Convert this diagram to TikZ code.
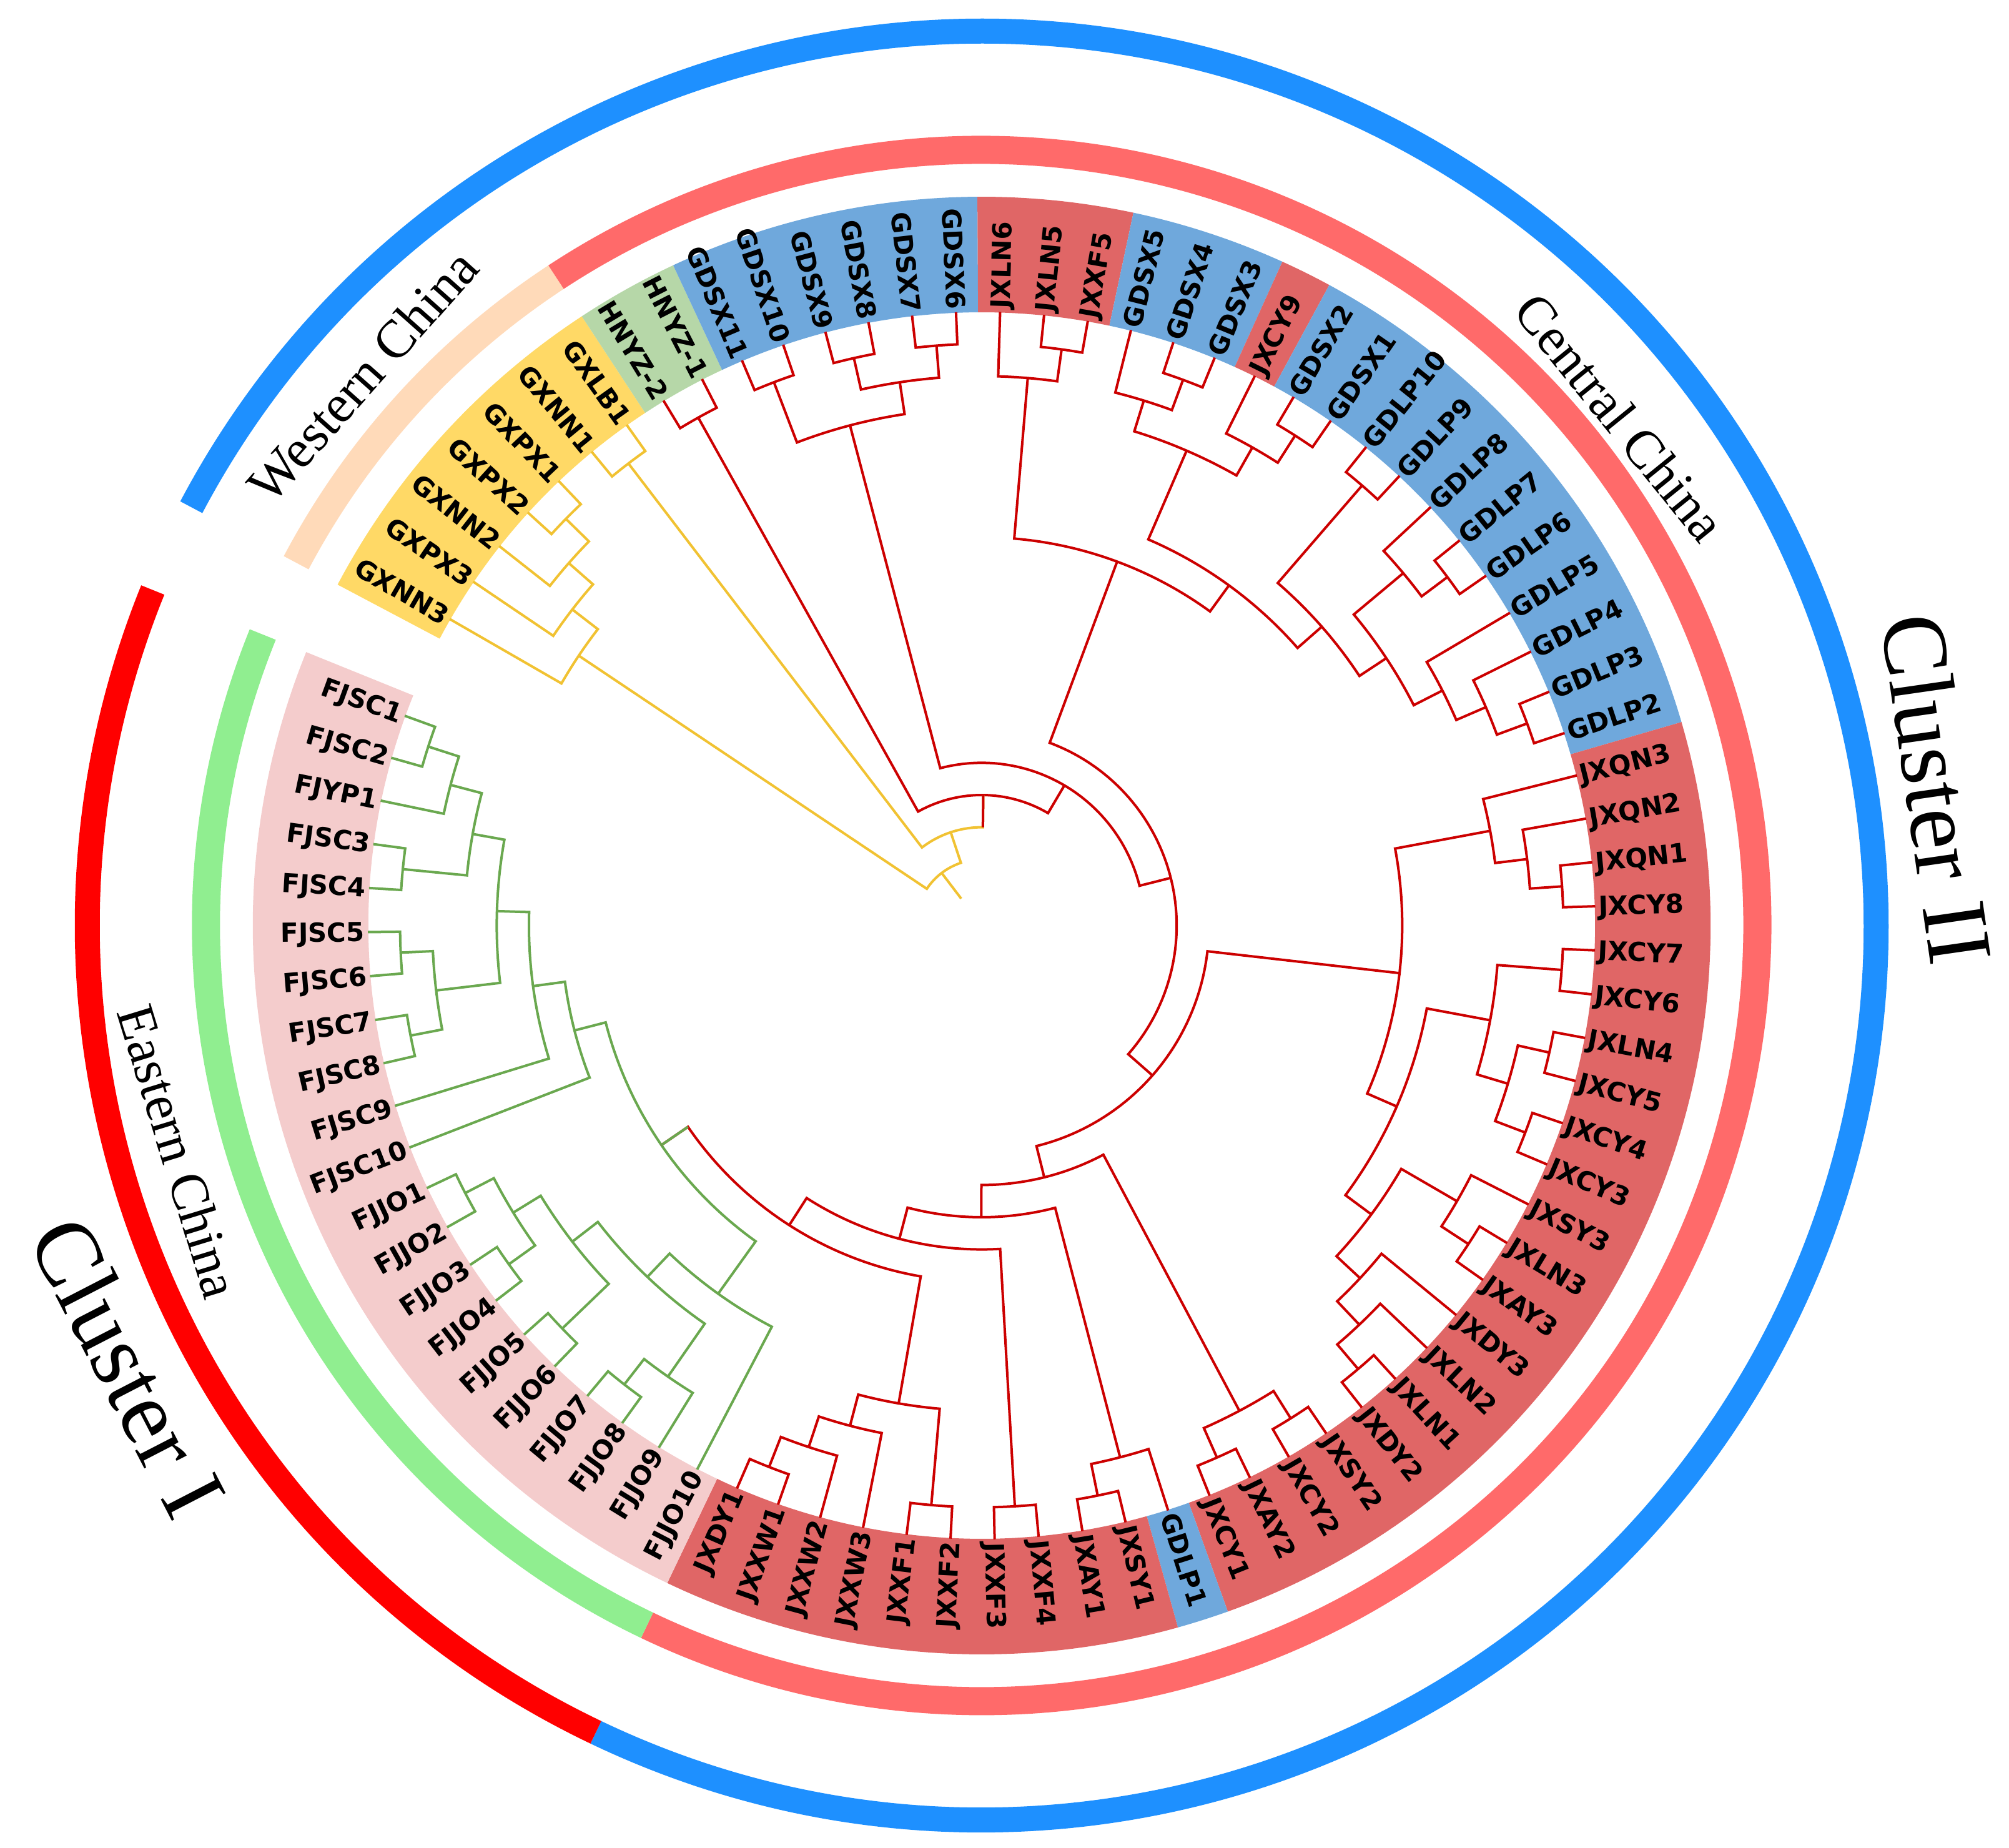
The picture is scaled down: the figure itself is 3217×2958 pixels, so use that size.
\documentclass[tikz,border=0pt]{standalone}
\usepackage{fontspec}
\usepackage{xcolor}
\newfontfamily\tipfont{DejaVu Sans}
\newfontfamily\ringfont{Liberation Serif}

\definecolor{clusterblue}{RGB}{30,144,255}
\definecolor{clusterred}{RGB}{255,0,0}
\definecolor{westpeach}{RGB}{255,218,185}
\definecolor{centralsalmon}{RGB}{255,106,106}
\definecolor{eastgreen}{RGB}{144,238,144}
\definecolor{bandyellow}{RGB}{255,217,102}
\definecolor{bandgreen}{RGB}{182,215,168}
\definecolor{bandblue}{RGB}{111,168,220}
\definecolor{bandred}{RGB}{224,102,102}
\definecolor{bandpink}{RGB}{244,204,204}
\definecolor{treeyellow}{RGB}{241,194,50}
\definecolor{treered}{RGB}{204,0,0}
\definecolor{treegreen}{RGB}{106,168,79}

% angle of tip number #1, radius of a clade of height #1
\newcommand{\tipang}[1]{(150.05-4.118*(#1))}
\newcommand{\noderad}[1]{(983-51.6*(#1))}
% colour, tip A, height A, tip B, height B, height of the clade
\newcommand{\clade}[6]{\draw[branch,#1] ({\tipang{#2}}:{\noderad{#3}}) -- ({\tipang{#2}}:{\noderad{#6}}) arc[start angle={\tipang{#2}},end angle={\tipang{#4}},radius={\noderad{#6}}] -- ({\tipang{#4}}:{\noderad{#5}});}
\newcommand{\bandsector}[3]{\fill[#1] ({\tipang{#2}}:982) arc[start angle={\tipang{#2}},end angle={\tipang{#3}},radius=982] -- ({\tipang{#3}}:1167) arc[start angle={\tipang{#3}},end angle={\tipang{#2}},radius=1167] -- cycle;}
\newcommand{\ringarc}[5]{\draw[#1,line width=#2] ({\tipang{#3}}:#5) arc[start angle={\tipang{#3}},end angle={\tipang{#4}},radius=#5];}

\tikzset{
  branch/.style={line width=4pt},
  leaf/.style={inner sep=0pt,text height=30pt,text depth=0pt,font=\tipfont\bfseries\fontsize{42}{42}\selectfont},
  regionlabel/.style={inner sep=0pt,font=\ringfont\fontsize{86}{86}\selectfont},
  clusterlabel/.style={inner sep=0pt,font=\ringfont\fontsize{148}{148}\selectfont}
}

\begin{document}
\begin{tikzpicture}[x=1pt,y=1pt]
\useasboundingbox (-1572,-1476) rectangle (1645,1482);

%Shape: Sector bands
\bandsector{bandyellow}{-0.5}{6.5}
\bandsector{bandgreen}{6.5}{8.5}
\bandsector{bandblue}{8.5}{14.5}
\bandsector{bandred}{14.5}{17.5}
\bandsector{bandblue}{17.5}{20.5}
\bandsector{bandred}{20.5}{21.5}
\bandsector{bandblue}{21.5}{32.5}
\bandsector{bandred}{32.5}{53.5}
\bandsector{bandblue}{53.5}{54.5}
\bandsector{bandred}{54.5}{64.5}
\bandsector{bandpink}{64.5}{85.5}

%Shape: Arc rings (region)
\ringarc{westpeach}{45pt}{-0.5}{6.5}{1242}
\ringarc{centralsalmon}{45pt}{6.5}{64.5}{1242}
\ringarc{eastgreen}{45pt}{64.5}{85.5}{1242}
%Shape: Arc rings (cluster)
\ringarc{clusterblue}{40pt}{-0.5}{64.5}{1432}
\ringarc{clusterred}{40pt}{64.5}{85.5}{1432}

%Curve Lines: western clades
\clade{treeyellow}{4}{0}{3}{0}{1}
\clade{treeyellow}{3.5}{1}{2}{0}{2}
\clade{treeyellow}{2.75}{2}{1}{0}{3}
\clade{treeyellow}{1.875}{3}{0}{0}{4}
\clade{treeyellow}{6}{0}{5}{0}{1}
%Curve Lines: central clades
\clade{treered}{8}{0}{7}{0}{1}
\clade{treered}{10}{0}{9}{0}{1}
\clade{treered}{12}{0}{11}{0}{1}
\clade{treered}{14}{0}{13}{0}{1}
\clade{treered}{11.5}{1}{13.5}{1}{2}
\clade{treered}{9.5}{1}{12.5}{2}{3}
\clade{treered}{17}{0}{16}{0}{1}
\clade{treered}{15}{0}{16.5}{1}{2}
\clade{treered}{20}{0}{19}{0}{1}
\clade{treered}{18}{0}{19.5}{1}{2}
\clade{treered}{23}{0}{22}{0}{1}
\clade{treered}{21}{0}{22.5}{1}{2}
\clade{treered}{18.75}{2}{21.75}{2}{3}
\clade{treered}{25}{0}{24}{0}{1}
\clade{treered}{28}{0}{27}{0}{1}
\clade{treered}{26}{0}{27.5}{1}{2}
\clade{treered}{32}{0}{31}{0}{1}
\clade{treered}{30}{0}{31.5}{1}{2}
\clade{treered}{29}{0}{30.75}{2}{3}
\clade{treered}{26.75}{2}{29.875}{3}{4}
\clade{treered}{24.5}{1}{28.3125}{4}{5}
\clade{treered}{20.25}{3}{26.40625}{5}{6}
\clade{treered}{15.75}{2}{23.328125}{6}{7}
\clade{treered}{36}{0}{35}{0}{1}
\clade{treered}{34}{0}{35.5}{1}{2}
\clade{treered}{33}{0}{34.75}{2}{3}
\clade{treered}{38}{0}{37}{0}{1}
\clade{treered}{40}{0}{39}{0}{1}
\clade{treered}{42}{0}{41}{0}{1}
\clade{treered}{39.5}{1}{41.5}{1}{2}
\clade{treered}{37.5}{1}{40.5}{2}{3}
\clade{treered}{45}{0}{44}{0}{1}
\clade{treered}{43}{0}{44.5}{1}{2}
\clade{treered}{49}{0}{48}{0}{1}
\clade{treered}{47}{0}{48.5}{1}{2}
\clade{treered}{46}{0}{47.75}{2}{3}
\clade{treered}{43.75}{2}{46.875}{3}{4}
\clade{treered}{39}{3}{45.3125}{4}{5}
\clade{treered}{33.875}{3}{42.15625}{5}{6}
\clade{treered}{53}{0}{52}{0}{1}
\clade{treered}{51}{0}{50}{0}{1}
\clade{treered}{50.5}{1}{52.5}{1}{2}
\clade{treered}{56}{0}{55}{0}{1}
\clade{treered}{54}{0}{55.5}{1}{2}
\clade{treered}{58}{0}{57}{0}{1}
\clade{treered}{60}{0}{59}{0}{1}
\clade{treered}{64}{0}{63}{0}{1}
\clade{treered}{62}{0}{63.5}{1}{2}
\clade{treered}{61}{0}{62.75}{2}{3}
\clade{treered}{59.5}{1}{61.875}{3}{4}
%Curve Lines: eastern clades
\clade{treegreen}{85}{0}{84}{0}{1}
\clade{treegreen}{83}{0}{84.5}{1}{2}
\clade{treegreen}{82}{0}{81}{0}{1}
\clade{treegreen}{81.5}{1}{83.75}{2}{3}
\clade{treegreen}{80}{0}{79}{0}{1}
\clade{treegreen}{78}{0}{77}{0}{1}
\clade{treegreen}{77.5}{1}{79.5}{1}{2}
\clade{treegreen}{78.5}{2}{82.625}{3}{4}
\clade{treegreen}{76}{0}{80.5625}{4}{5}
\clade{treegreen}{75}{0}{78.28125}{5}{6}
\clade{treegreen}{74}{0}{73}{0}{1}
\clade{treegreen}{72}{0}{71}{0}{1}
\clade{treegreen}{71.5}{1}{73.5}{1}{2}
\clade{treegreen}{70}{0}{69}{0}{1}
\clade{treegreen}{69.5}{1}{72.5}{2}{3}
\clade{treegreen}{68}{0}{67}{0}{1}
\clade{treegreen}{66}{0}{67.5}{1}{2}
\clade{treegreen}{66.75}{2}{71}{3}{4}
\clade{treegreen}{65}{0}{68.875}{4}{5}
\clade{treegreen}{66.9375}{5}{76.640625}{6}{7}
%Curve Lines: backbone
\clade{treered}{60.6875}{4}{71.7890625}{7}{8}
\draw[branch,treegreen] ({\tipang{71.7890625}}:{\noderad{8}}) -- ({\tipang{71.7890625}}:{\noderad{7}});
\clade{treered}{57.5}{1}{66.23828125}{8}{9}
\clade{treered}{54.75}{2}{61.869140625}{9}{10}
\clade{treered}{51.5}{2}{58.3095703125}{10}{11}
\clade{treered}{38.015625}{6}{54.90478515625}{11}{12}
\clade{treered}{19.5390625}{7}{46.460205078125}{12}{13}
\clade{treered}{11}{3}{32.9996337890625}{13}{14}
\clade{treered}{7.5}{1}{21.99981689453125}{14}{15}
\clade{treeyellow}{5.5}{1}{14.749908447265625}{15}{16}
\draw[branch,treered] ({\tipang{14.749908447265625}}:{\noderad{16}}) -- ({\tipang{14.749908447265625}}:{\noderad{15}});
\clade{treeyellow}{0.9375}{4}{10.124954223632812}{16}{17}
\draw[branch,treeyellow] ({\tipang{5.531227111816406}}:{\noderad{17}}) -- ({\tipang{5.531227111816406}}:{\noderad{18}});

% Text Node
\draw ({\tipang{0}}:988) node (GXNN3) [leaf,anchor=east,rotate={\tipang{0}+180}] {GXNN3};
% Text Node
\draw ({\tipang{1}}:988) node (GXPX3) [leaf,anchor=east,rotate={\tipang{1}+180}] {GXPX3};
% Text Node
\draw ({\tipang{2}}:988) node (GXNN2) [leaf,anchor=east,rotate={\tipang{2}+180}] {GXNN2};
% Text Node
\draw ({\tipang{3}}:988) node (GXPX2) [leaf,anchor=east,rotate={\tipang{3}+180}] {GXPX2};
% Text Node
\draw ({\tipang{4}}:988) node (GXPX1) [leaf,anchor=east,rotate={\tipang{4}+180}] {GXPX1};
% Text Node
\draw ({\tipang{5}}:988) node (GXNN1) [leaf,anchor=east,rotate={\tipang{5}+180}] {GXNN1};
% Text Node
\draw ({\tipang{6}}:988) node (GXLB1) [leaf,anchor=east,rotate={\tipang{6}+180}] {GXLB1};
% Text Node
\draw ({\tipang{7}}:988) node (HNYZ2) [leaf,anchor=east,rotate={\tipang{7}+180}] {HNYZ-2};
% Text Node
\draw ({\tipang{8}}:988) node (HNYZ1) [leaf,anchor=east,rotate={\tipang{8}+180}] {HNYZ-1};
% Text Node
\draw ({\tipang{9}}:988) node (GDSX11) [leaf,anchor=east,rotate={\tipang{9}+180}] {GDSX11};
% Text Node
\draw ({\tipang{10}}:988) node (GDSX10) [leaf,anchor=east,rotate={\tipang{10}+180}] {GDSX10};
% Text Node
\draw ({\tipang{11}}:988) node (GDSX9) [leaf,anchor=east,rotate={\tipang{11}+180}] {GDSX9};
% Text Node
\draw ({\tipang{12}}:988) node (GDSX8) [leaf,anchor=east,rotate={\tipang{12}+180}] {GDSX8};
% Text Node
\draw ({\tipang{13}}:988) node (GDSX7) [leaf,anchor=east,rotate={\tipang{13}+180}] {GDSX7};
% Text Node
\draw ({\tipang{14}}:988) node (GDSX6) [leaf,anchor=east,rotate={\tipang{14}+180}] {GDSX6};
% Text Node
\draw ({\tipang{15}}:988) node (JXLN6) [leaf,anchor=west,rotate={\tipang{15}}] {JXLN6};
% Text Node
\draw ({\tipang{16}}:988) node (JXLN5) [leaf,anchor=west,rotate={\tipang{16}}] {JXLN5};
% Text Node
\draw ({\tipang{17}}:988) node (JXXF5) [leaf,anchor=west,rotate={\tipang{17}}] {JXXF5};
% Text Node
\draw ({\tipang{18}}:988) node (GDSX5) [leaf,anchor=west,rotate={\tipang{18}}] {GDSX5};
% Text Node
\draw ({\tipang{19}}:988) node (GDSX4) [leaf,anchor=west,rotate={\tipang{19}}] {GDSX4};
% Text Node
\draw ({\tipang{20}}:988) node (GDSX3) [leaf,anchor=west,rotate={\tipang{20}}] {GDSX3};
% Text Node
\draw ({\tipang{21}}:988) node (JXCY9) [leaf,anchor=west,rotate={\tipang{21}}] {JXCY9};
% Text Node
\draw ({\tipang{22}}:988) node (GDSX2) [leaf,anchor=west,rotate={\tipang{22}}] {GDSX2};
% Text Node
\draw ({\tipang{23}}:988) node (GDSX1) [leaf,anchor=west,rotate={\tipang{23}}] {GDSX1};
% Text Node
\draw ({\tipang{24}}:988) node (GDLP10) [leaf,anchor=west,rotate={\tipang{24}}] {GDLP10};
% Text Node
\draw ({\tipang{25}}:988) node (GDLP9) [leaf,anchor=west,rotate={\tipang{25}}] {GDLP9};
% Text Node
\draw ({\tipang{26}}:988) node (GDLP8) [leaf,anchor=west,rotate={\tipang{26}}] {GDLP8};
% Text Node
\draw ({\tipang{27}}:988) node (GDLP7) [leaf,anchor=west,rotate={\tipang{27}}] {GDLP7};
% Text Node
\draw ({\tipang{28}}:988) node (GDLP6) [leaf,anchor=west,rotate={\tipang{28}}] {GDLP6};
% Text Node
\draw ({\tipang{29}}:988) node (GDLP5) [leaf,anchor=west,rotate={\tipang{29}}] {GDLP5};
% Text Node
\draw ({\tipang{30}}:988) node (GDLP4) [leaf,anchor=west,rotate={\tipang{30}}] {GDLP4};
% Text Node
\draw ({\tipang{31}}:988) node (GDLP3) [leaf,anchor=west,rotate={\tipang{31}}] {GDLP3};
% Text Node
\draw ({\tipang{32}}:988) node (GDLP2) [leaf,anchor=west,rotate={\tipang{32}}] {GDLP2};
% Text Node
\draw ({\tipang{33}}:988) node (JXQN3) [leaf,anchor=west,rotate={\tipang{33}}] {JXQN3};
% Text Node
\draw ({\tipang{34}}:988) node (JXQN2) [leaf,anchor=west,rotate={\tipang{34}}] {JXQN2};
% Text Node
\draw ({\tipang{35}}:988) node (JXQN1) [leaf,anchor=west,rotate={\tipang{35}}] {JXQN1};
% Text Node
\draw ({\tipang{36}}:988) node (JXCY8) [leaf,anchor=west,rotate={\tipang{36}}] {JXCY8};
% Text Node
\draw ({\tipang{37}}:988) node (JXCY7) [leaf,anchor=west,rotate={\tipang{37}}] {JXCY7};
% Text Node
\draw ({\tipang{38}}:988) node (JXCY6) [leaf,anchor=west,rotate={\tipang{38}}] {JXCY6};
% Text Node
\draw ({\tipang{39}}:988) node (JXLN4) [leaf,anchor=west,rotate={\tipang{39}}] {JXLN4};
% Text Node
\draw ({\tipang{40}}:988) node (JXCY5) [leaf,anchor=west,rotate={\tipang{40}}] {JXCY5};
% Text Node
\draw ({\tipang{41}}:988) node (JXCY4) [leaf,anchor=west,rotate={\tipang{41}}] {JXCY4};
% Text Node
\draw ({\tipang{42}}:988) node (JXCY3) [leaf,anchor=west,rotate={\tipang{42}}] {JXCY3};
% Text Node
\draw ({\tipang{43}}:988) node (JXSY3) [leaf,anchor=west,rotate={\tipang{43}}] {JXSY3};
% Text Node
\draw ({\tipang{44}}:988) node (JXLN3) [leaf,anchor=west,rotate={\tipang{44}}] {JXLN3};
% Text Node
\draw ({\tipang{45}}:988) node (JXAY3) [leaf,anchor=west,rotate={\tipang{45}}] {JXAY3};
% Text Node
\draw ({\tipang{46}}:988) node (JXDY3) [leaf,anchor=west,rotate={\tipang{46}}] {JXDY3};
% Text Node
\draw ({\tipang{47}}:988) node (JXLN2) [leaf,anchor=west,rotate={\tipang{47}}] {JXLN2};
% Text Node
\draw ({\tipang{48}}:988) node (JXLN1) [leaf,anchor=west,rotate={\tipang{48}}] {JXLN1};
% Text Node
\draw ({\tipang{49}}:988) node (JXDY2) [leaf,anchor=west,rotate={\tipang{49}}] {JXDY2};
% Text Node
\draw ({\tipang{50}}:988) node (JXSY2) [leaf,anchor=west,rotate={\tipang{50}}] {JXSY2};
% Text Node
\draw ({\tipang{51}}:988) node (JXCY2) [leaf,anchor=west,rotate={\tipang{51}}] {JXCY2};
% Text Node
\draw ({\tipang{52}}:988) node (JXAY2) [leaf,anchor=west,rotate={\tipang{52}}] {JXAY2};
% Text Node
\draw ({\tipang{53}}:988) node (JXCY1) [leaf,anchor=west,rotate={\tipang{53}}] {JXCY1};
% Text Node
\draw ({\tipang{54}}:988) node (GDLP1) [leaf,anchor=west,rotate={\tipang{54}}] {GDLP1};
% Text Node
\draw ({\tipang{55}}:988) node (JXSY1) [leaf,anchor=west,rotate={\tipang{55}}] {JXSY1};
% Text Node
\draw ({\tipang{56}}:988) node (JXAY1) [leaf,anchor=west,rotate={\tipang{56}}] {JXAY1};
% Text Node
\draw ({\tipang{57}}:988) node (JXXF4) [leaf,anchor=west,rotate={\tipang{57}}] {JXXF4};
% Text Node
\draw ({\tipang{58}}:988) node (JXXF3) [leaf,anchor=west,rotate={\tipang{58}}] {JXXF3};
% Text Node
\draw ({\tipang{59}}:988) node (JXXF2) [leaf,anchor=east,rotate={\tipang{59}+180}] {JXXF2};
% Text Node
\draw ({\tipang{60}}:988) node (JXXF1) [leaf,anchor=east,rotate={\tipang{60}+180}] {JXXF1};
% Text Node
\draw ({\tipang{61}}:988) node (JXXW3) [leaf,anchor=east,rotate={\tipang{61}+180}] {JXXW3};
% Text Node
\draw ({\tipang{62}}:988) node (JXXW2) [leaf,anchor=east,rotate={\tipang{62}+180}] {JXXW2};
% Text Node
\draw ({\tipang{63}}:988) node (JXXW1) [leaf,anchor=east,rotate={\tipang{63}+180}] {JXXW1};
% Text Node
\draw ({\tipang{64}}:988) node (JXDY1) [leaf,anchor=east,rotate={\tipang{64}+180}] {JXDY1};
% Text Node
\draw ({\tipang{65}}:988) node (FJJO10) [leaf,anchor=east,rotate={\tipang{65}+180}] {FJJO10};
% Text Node
\draw ({\tipang{66}}:988) node (FJJO9) [leaf,anchor=east,rotate={\tipang{66}+180}] {FJJO9};
% Text Node
\draw ({\tipang{67}}:988) node (FJJO8) [leaf,anchor=east,rotate={\tipang{67}+180}] {FJJO8};
% Text Node
\draw ({\tipang{68}}:988) node (FJJO7) [leaf,anchor=east,rotate={\tipang{68}+180}] {FJJO7};
% Text Node
\draw ({\tipang{69}}:988) node (FJJO6) [leaf,anchor=east,rotate={\tipang{69}+180}] {FJJO6};
% Text Node
\draw ({\tipang{70}}:988) node (FJJO5) [leaf,anchor=east,rotate={\tipang{70}+180}] {FJJO5};
% Text Node
\draw ({\tipang{71}}:988) node (FJJO4) [leaf,anchor=east,rotate={\tipang{71}+180}] {FJJO4};
% Text Node
\draw ({\tipang{72}}:988) node (FJJO3) [leaf,anchor=east,rotate={\tipang{72}+180}] {FJJO3};
% Text Node
\draw ({\tipang{73}}:988) node (FJJO2) [leaf,anchor=east,rotate={\tipang{73}+180}] {FJJO2};
% Text Node
\draw ({\tipang{74}}:988) node (FJJO1) [leaf,anchor=east,rotate={\tipang{74}+180}] {FJJO1};
% Text Node
\draw ({\tipang{75}}:988) node (FJSC10) [leaf,anchor=east,rotate={\tipang{75}+180}] {FJSC10};
% Text Node
\draw ({\tipang{76}}:988) node (FJSC9) [leaf,anchor=east,rotate={\tipang{76}+180}] {FJSC9};
% Text Node
\draw ({\tipang{77}}:988) node (FJSC8) [leaf,anchor=east,rotate={\tipang{77}+180}] {FJSC8};
% Text Node
\draw ({\tipang{78}}:988) node (FJSC7) [leaf,anchor=east,rotate={\tipang{78}+180}] {FJSC7};
% Text Node
\draw ({\tipang{79}}:988) node (FJSC6) [leaf,anchor=east,rotate={\tipang{79}+180}] {FJSC6};
% Text Node
\draw ({\tipang{80}}:988) node (FJSC5) [leaf,anchor=east,rotate={\tipang{80}+180}] {FJSC5};
% Text Node
\draw ({\tipang{81}}:988) node (FJSC4) [leaf,anchor=east,rotate={\tipang{81}+180}] {FJSC4};
% Text Node
\draw ({\tipang{82}}:988) node (FJSC3) [leaf,anchor=east,rotate={\tipang{82}+180}] {FJSC3};
% Text Node
\draw ({\tipang{83}}:988) node (FJYP1) [leaf,anchor=east,rotate={\tipang{83}+180}] {FJYP1};
% Text Node
\draw ({\tipang{84}}:988) node (FJSC2) [leaf,anchor=east,rotate={\tipang{84}+180}] {FJSC2};
% Text Node
\draw ({\tipang{85}}:988) node (FJSC1) [leaf,anchor=east,rotate={\tipang{85}+180}] {FJSC1};

% Text Node
\draw (-991,880) node (western) [regionlabel,rotate=48.4] {Western China};
% Text Node
\draw (1022,814) node (central) [regionlabel,rotate=-51] {Central China};
% Text Node
\draw (-1286,-362) node (eastern) [regionlabel,rotate=-73] {Eastern China};
% Text Node
\draw (1530,219) node (clusterII) [clusterlabel,rotate=-81.8] {Cluster II};
% Text Node
\draw (-1367,-707) node (clusterI) [clusterlabel,rotate=-62.7] {Cluster I};

\end{tikzpicture}
\end{document}
